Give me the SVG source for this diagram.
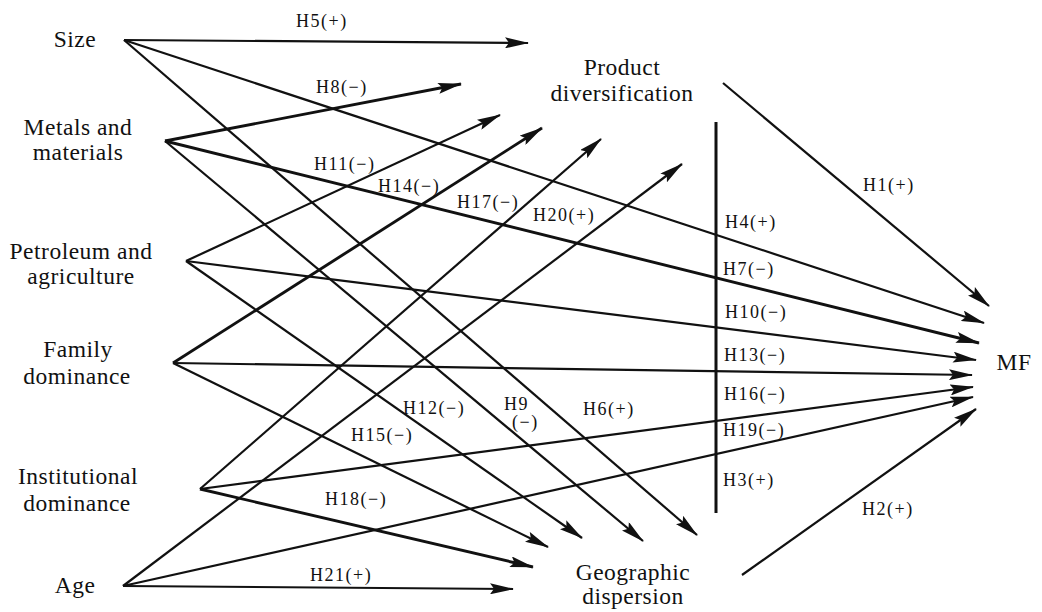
<svg xmlns="http://www.w3.org/2000/svg" width="1042" height="612" viewBox="0 0 1042 612">
<style>
.node{font-family:"Liberation Serif","Times New Roman",serif;font-size:23.5px;letter-spacing:0.5px;fill:#111;text-anchor:middle}
.lab{font-family:"Liberation Serif","Times New Roman",serif;font-size:18px;letter-spacing:1.5px;fill:#111}
.c{stroke:#111;stroke-width:2.2;fill:none;marker-end:url(#ah)}
.t{stroke-width:2.9}
</style>
<defs>
<marker id="ah" markerUnits="userSpaceOnUse" viewBox="0 0 24 11" markerWidth="24" markerHeight="11" refX="23" refY="5.5" orient="auto">
<path d="M0,0 L24,5.5 L0,11 L4,5.5 z" fill="#111"/>
</marker>
</defs>
<rect width="1042" height="612" fill="#fff"/>

<g id="connectors">
<!-- Size -->
<line class="c" x1="124" y1="40" x2="528" y2="43"/>
<line class="c" x1="124" y1="40" x2="984" y2="323"/>
<line class="c" x1="124" y1="40" x2="697" y2="535"/>
<!-- Metals -->
<line class="c t" x1="165" y1="141" x2="461" y2="84"/>
<line class="c t" x1="165" y1="141" x2="979" y2="343"/>
<line class="c" x1="165" y1="141" x2="643" y2="541"/>
<!-- Petroleum -->
<line class="c" x1="186" y1="261" x2="500" y2="115"/>
<line class="c" x1="186" y1="261" x2="976" y2="360"/>
<line class="c" x1="186" y1="261" x2="582" y2="538"/>
<!-- Family -->
<line class="c t" x1="173" y1="363" x2="542" y2="128"/>
<line class="c" x1="173" y1="363" x2="972" y2="375"/>
<line class="c" x1="173" y1="363" x2="548" y2="547"/>
<!-- Institutional -->
<line class="c" x1="200" y1="489" x2="601" y2="139"/>
<line class="c" x1="200" y1="489" x2="973" y2="387"/>
<line class="c t" x1="200" y1="489" x2="533" y2="567"/>
<!-- Age -->
<line class="c" x1="123" y1="586" x2="682" y2="164"/>
<line class="c" x1="123" y1="586" x2="973" y2="397"/>
<line class="c" x1="123" y1="586" x2="513" y2="589"/>
<!-- mediators to MF -->
<line class="c" x1="723" y1="83" x2="989" y2="306"/>
<line class="c" x1="742" y1="575" x2="976" y2="409"/>
<!-- interaction bar -->
<line x1="716" y1="122" x2="716" y2="513" stroke="#111" stroke-width="3"/>
</g>

<g id="labels">
<text class="lab" x="296" y="27">H5(+)</text>
<text class="lab" x="316" y="93">H8(−)</text>
<text class="lab" x="314" y="170">H11(−)</text>
<text class="lab" x="378" y="192">H14(−)</text>
<text class="lab" x="457" y="208">H17(−)</text>
<text class="lab" x="533" y="221">H20(+)</text>
<text class="lab" x="725" y="228">H4(+)</text>
<text class="lab" x="723" y="275">H7(−)</text>
<text class="lab" x="725" y="318">H10(−)</text>
<text class="lab" x="724" y="361">H13(−)</text>
<text class="lab" x="724" y="400">H16(−)</text>
<text class="lab" x="723" y="436">H19(−)</text>
<text class="lab" x="723" y="486">H3(+)</text>
<text class="lab" x="863" y="191">H1(+)</text>
<text class="lab" x="862" y="515">H2(+)</text>
<text class="lab" x="583" y="415">H6(+)</text>
<text class="lab" x="403" y="414">H12(−)</text>
<text class="lab" x="504" y="410">H9</text>
<text class="lab" x="512" y="428">(−)</text>
<text class="lab" x="351" y="441">H15(−)</text>
<text class="lab" x="325" y="505">H18(−)</text>
<text class="lab" x="310" y="581">H21(+)</text>
</g>

<g id="size"><text class="node" x="75" y="47">Size</text></g>
<g id="metals"><text class="node" x="78" y="135">Metals and</text><text class="node" x="78" y="160">materials</text></g>
<g id="petroleum"><text class="node" x="81" y="259">Petroleum and</text><text class="node" x="81" y="284">agriculture</text></g>
<g id="family"><text class="node" x="78" y="357">Family</text><text class="node" x="77" y="384">dominance</text></g>
<g id="institutional"><text class="node" x="78" y="484">Institutional</text><text class="node" x="77" y="511">dominance</text></g>
<g id="age"><text class="node" x="75" y="593">Age</text></g>
<g id="product"><text class="node" x="622" y="75">Product</text><text class="node" x="622" y="101">diversification</text></g>
<g id="geographic"><text class="node" x="633" y="580">Geographic</text><text class="node" x="633" y="604">dispersion</text></g>
<g id="mf"><text class="node" x="1014" y="370">MF</text></g>
</svg>
